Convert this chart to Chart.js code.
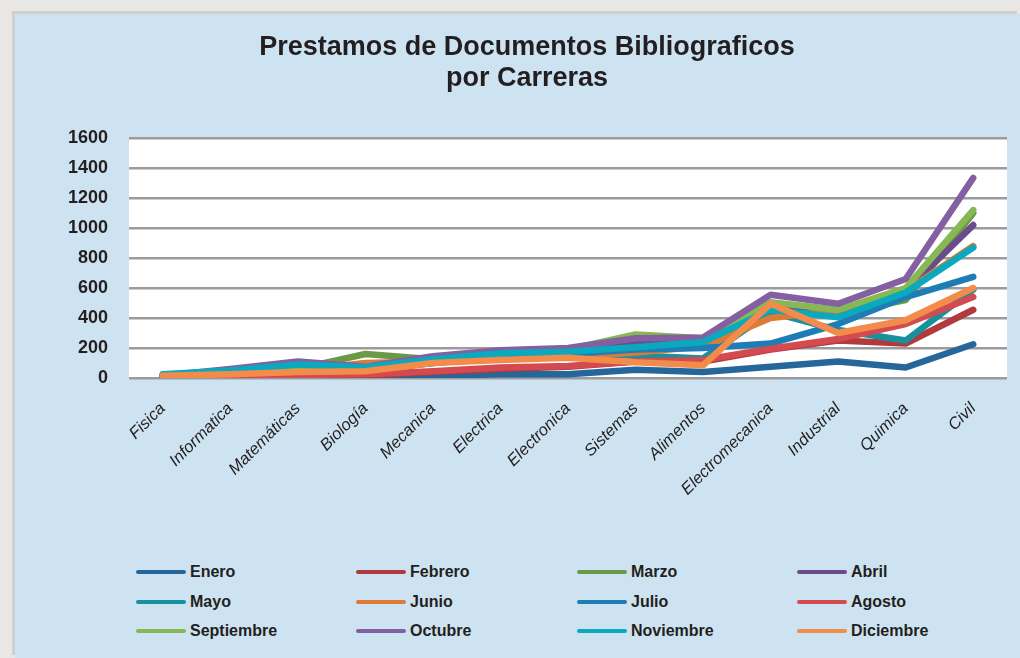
<!DOCTYPE html>
<html>
<head>
<meta charset="utf-8">
<script src="https://cdn.jsdelivr.net/npm/chart.js@4.4.1/dist/chart.umd.min.js"></script>
<style>
  body { margin: 0; background: #e9e7e5; font-family: "Liberation Sans", Arial, sans-serif; }
  #panel { position: absolute; left: 15px; top: 14px; width: 1005px; height: 644px; background: #cee3f1; box-shadow: -3px -3px 0 #cfcfcf; }
  #wrap { position: absolute; left: 0; top: 0; width: 1005px; height: 530px; }
  #legend { position: absolute; left: 0; top: 546px; width: 1005px; }
  .item { position: absolute; height: 24px; display: flex; align-items: center; font-weight: bold; font-size: 16px; color: #231f20; }
  .item span.line { display: inline-block; width: 50px; height: 4px; border-radius: 2px; margin-right: 4px; }
</style>
</head>
<body>
<div id="panel">
  <div id="wrap"><canvas id="myChart"></canvas></div>
  <div id="legend"></div>
</div>
<script>
const carreras = ["Fisica", "Informatica", "Matemáticas", "Biología", "Mecanica", "Electrica", "Electronica",
  "Sistemas", "Alimentos", "Electromecanica", "Industrial", "Quimica", "Civil"];

const meses = ["Enero", "Febrero", "Marzo", "Abril", "Mayo", "Junio", "Julio", "Agosto",
  "Septiembre", "Octubre", "Noviembre", "Diciembre"];

const enero = [5, 5, 8, 10, 15, 25, 25, 55, 40, 75, 110, 70, 225];
const febrero = [8, 10, 12, 15, 40, 60, 75, 110, 110, 190, 250, 230, 455];
const marzo = [10, 25, 60, 160, 125, 150, 185, 270, 260, 480, 430, 520, 1100];
const abril = [15, 40, 80, 70, 120, 170, 190, 240, 230, 500, 440, 580, 1020];
const mayo = [20, 40, 65, 60, 100, 140, 160, 150, 130, 440, 320, 250, 590];
const junio = [10, 25, 50, 100, 110, 130, 140, 170, 210, 400, 450, 580, 880];
const julio = [10, 20, 40, 50, 100, 140, 160, 190, 200, 230, 360, 540, 675];
const agosto = [10, 15, 20, 25, 45, 70, 80, 110, 120, 195, 260, 360, 540];
const septiembre = [12, 30, 70, 80, 125, 165, 190, 290, 265, 505, 455, 600, 1120];
const octubre = [15, 60, 110, 75, 145, 185, 200, 265, 270, 555, 495, 660, 1335];
const noviembre = [25, 50, 90, 70, 125, 165, 175, 205, 240, 455, 405, 570, 870];
const diciembre = [15, 25, 40, 45, 100, 120, 135, 105, 85, 495, 300, 385, 600];

const yTicks = [0, 200, 400, 600, 800, 1000, 1200, 1400, 1600];

const valores = [enero, febrero, marzo, abril, mayo, junio, julio, agosto, septiembre, octubre, noviembre, diciembre];
const colores = ["#25679b", "#b03a3e", "#6a9a48", "#6b4c8a", "#17919d", "#dd7a35",
  "#1f7db6", "#d34a50", "#86b854", "#8460a3", "#0aa9bd", "#f38b4a"];

// fondo blanco del area de trazado
const plotBg = {
  id: "plotBg",
  beforeDraw(chart) {
    const a = chart.chartArea;
    const ctx = chart.ctx;
    ctx.save();
    ctx.fillStyle = "#ffffff";
    ctx.fillRect(a.left, a.top, a.right - a.left, a.bottom - a.top);
    ctx.restore();
  }
};

const datasets = meses.map((m, i) => ({
  label: m,
  data: valores[i],
  borderColor: colores[i],
  backgroundColor: colores[i],
  borderWidth: 6.5,
  borderCapStyle: "round",
  borderJoinStyle: "round",
  pointRadius: 0,
  tension: 0,
  order: meses.length - i
}));

const chart = new Chart("myChart", {
  type: "line",
  data: { labels: carreras, datasets: datasets },
  plugins: [plotBg],
  options: {
    responsive: true,
    maintainAspectRatio: false,
    animation: false,
    layout: { padding: { left: 32, right: 13, top: 0, bottom: 0 } },
    plugins: {
      legend: { display: false },
      tooltip: { enabled: false },
      title: {
        display: true,
        text: ["Prestamos de Documentos Bibliograficos", "por Carreras"],
        color: "#231f20",
        font: { family: "Liberation Sans", size: 27, weight: "bold", lineHeight: 1.15 },
        padding: { top: 18, bottom: 44 }
      }
    },
    scales: {
      x: {
        offset: true,
        grid: { display: false, drawTicks: false },
        border: { display: false },
        ticks: {
          color: "#231f20",
          font: { family: "Liberation Sans", size: 16.5, style: "italic" },
          maxRotation: 45,
          minRotation: 45,
          padding: 21,
          autoSkip: false
        },
        afterFit(scale) { scale.height = 166; }
      },
      y: {
        min: 0,
        max: 1600,
        afterBuildTicks(scale) { scale.ticks = yTicks.map(v => ({ value: v })); },
        grid: { color: "#9b9b9d", lineWidth: 2.5, drawTicks: false },
        border: { display: false },
        ticks: {
          color: "#231f20",
          font: { family: "Liberation Sans", size: 18, weight: "bold" },
          padding: 21,
          callback: v => String(v)
        },
        afterFit(scale) { scale.width = 82; }
      }
    }
  }
});

// leyenda en 4 columnas
const legend = document.getElementById("legend");
const colX = [121, 341, 562, 782];
chart.data.datasets.forEach((ds, i) => {
  const el = document.createElement("div");
  el.className = "item";
  el.style.left = colX[i % 4] + "px";
  el.style.top = (Math.floor(i / 4) * 29.5) + "px";
  el.innerHTML = '<span class="line" style="background:' + ds.borderColor + '"></span>' + ds.label;
  legend.appendChild(el);
});
</script>
</body>
</html>
